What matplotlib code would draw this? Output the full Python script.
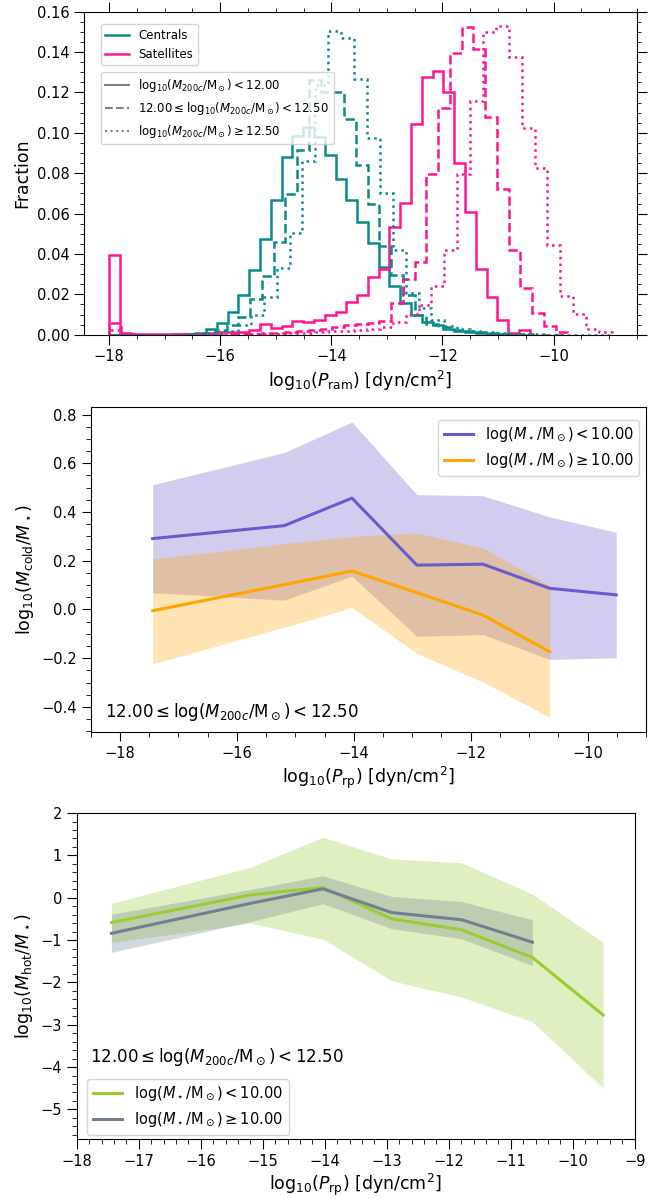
import numpy as np
import matplotlib
matplotlib.use("Agg")
import matplotlib.pyplot as plt
from matplotlib.lines import Line2D
from matplotlib.ticker import MultipleLocator

# ---- ram-pressure histograms (fractions per bin), 39 bins from -18 up to p_max per halo-mass bin
p_min = -18.0
p_max = {"low": -10.43, "mid": -9.75, "high": -8.95}

cen_low = [0, 0, 0, 0, 0, 0, 0.0003, 0.0006, 0.0011, 0.0027, 0.006, 0.0114, 0.0197,
           0.032, 0.0474, 0.0667, 0.088, 0.0985, 0.1027, 0.098, 0.089, 0.077, 0.0667,
           0.0559, 0.0452, 0.0337, 0.0243, 0.0159, 0.0098, 0.0065, 0.0048, 0.003, 0.002,
           0.0012, 0.0008, 0.0005, 0.0003, 0.0002, 0.0001]
sat_low = [0.0395, 0.0008, 0.0002, 0.0002, 0.0002, 0.0002, 0.0002, 0.0004, 0.0006,
           0.001, 0.0012, 0.0015, 0.0015, 0.0023, 0.0053, 0.0031, 0.0043, 0.0068, 0.0064,
           0.0075, 0.0098, 0.0114, 0.0163, 0.0197, 0.0284, 0.0324, 0.0535, 0.0654, 0.1044,
           0.1278, 0.1305, 0.12, 0.085, 0.061, 0.0324, 0.0188, 0.0073, 0.0007, 0.0023]

cen_mid = [0, 0, 0, 0, 0, 0, 0, 0.0003, 0.001, 0.0025, 0.0048, 0.0089, 0.0176, 0.029,
           0.0459, 0.0695, 0.0915, 0.126, 0.12, 0.12, 0.1067, 0.0841, 0.0647, 0.044,
           0.0296, 0.0197, 0.0098, 0.0055, 0.004, 0.0025, 0.0018, 0.0012, 0.0008, 0.0005,
           0.0003, 0.0002, 0, 0, 0]
sat_mid = [0.0056, 0.0003, 0.0001, 0.0001, 0.0001, 0.0001, 0.0001, 0.0001, 0.0001,
           0.0001, 0.0003, 0.0005, 0.0006, 0.0008, 0.001, 0.0012, 0.0018, 0.0023, 0.003,
           0.0037, 0.0048, 0.0053, 0.006, 0.0068, 0.0159, 0.0274, 0.0359, 0.0796, 0.1121,
           0.1397, 0.1523, 0.1414, 0.108, 0.072, 0.042, 0.0233, 0.0106, 0.0043, 0.0015]

cen_high = [0, 0, 0, 0, 0, 0, 0.0002, 0.0005, 0.001, 0.002, 0.005, 0.0098, 0.0185,
            0.0329, 0.0502, 0.086, 0.1237, 0.1506, 0.1468, 0.1265, 0.0973, 0.07, 0.042,
            0.0205, 0.013, 0.0075, 0.0045, 0.003, 0.002, 0.0013, 0.0008, 0.0005, 0.0003,
            0.0002, 0, 0, 0, 0, 0]
sat_high = [0.0023, 0.0002, 0.0001, 0.0001, 0.0001, 0.0001, 0.0001, 0.0001, 0.0001,
            0.0001, 0.0002, 0.0002, 0.0003, 0.0005, 0.0008, 0.001, 0.0013, 0.0017, 0.002,
            0.0025, 0.003, 0.004, 0.0065, 0.0105, 0.0145, 0.0241, 0.042, 0.0795, 0.1159,
            0.1501, 0.1529, 0.1374, 0.1022, 0.0824, 0.0444, 0.0192, 0.0103, 0.0027, 0.0015]

# ---- binned medians and 16-84 percentile bands vs log10(P_rp)
p_rp = [-17.44, -15.19, -14.03, -12.92, -11.79, -10.65, -9.51]

cold_lo_med = [0.291, 0.344, 0.457, 0.182, 0.186, 0.087, 0.060]
cold_lo_up = [0.512, 0.644, 0.769, 0.471, 0.467, 0.380, 0.317]
cold_lo_dn = [0.069, 0.038, 0.137, -0.110, -0.103, -0.205, -0.198]
cold_hi_med = [-0.005, 0.102, 0.158, 0.069, -0.023, -0.173]
cold_hi_up = [0.208, 0.27, 0.30, 0.314, 0.253, 0.098]
cold_hi_dn = [-0.223, -0.073, 0.008, -0.18, -0.298, -0.442]

hot_lo_med = [-0.585, 0.069, 0.243, -0.498, -0.758, -1.41, -2.77]
hot_lo_up = [-0.128, 0.723, 1.43, 0.92, 0.826, 0.085, -1.05]
hot_lo_dn = [-1.06, -0.6, -0.98, -1.96, -2.35, -2.93, -4.5]
hot_hi_med = [-0.84, -0.13, 0.21, -0.35, -0.52, -1.05]
hot_hi_up = [-0.39, 0.2, 0.52, 0.03, -0.09, -0.52]
hot_hi_dn = [-1.29, -0.56, -0.14, -0.73, -0.97, -1.6]

mhalo_labels = [r"$\mathrm{log}_{10}(M_{200c}/{\rm M}_\odot) < 12.00$",
                r"$12.00 \leq \mathrm{log}_{10}(M_{200c}/{\rm M}_\odot) < 12.50$",
                r"$\mathrm{log}_{10}(M_{200c}/{\rm M}_\odot) \geq 12.50$"]
mstar_labels = [r"$\mathrm{log}(M_\star/{\rm M}_\odot) < 10.00$",
                r"$\mathrm{log}(M_\star/{\rm M}_\odot) \geq 10.00$"]
bin_text = r"$12.00 \leq \mathrm{log}(M_{200c}/{\rm M}_\odot) < 12.50$"

c_cen = "#0a8b8b"
c_sat = "deeppink"

fig = plt.figure(figsize=(6.66, 11.98), dpi=100)
ax1 = fig.add_axes([0.1261, 0.7206, 0.8303, 0.2696])
ax2 = fig.add_axes([0.1362, 0.3890, 0.8338, 0.2710])
ax3 = fig.add_axes([0.1152, 0.0492, 0.8378, 0.2721])

# ---- top panel: histograms
styles = ["-", "--", ":"]
series = [("low", cen_low, sat_low), ("mid", cen_mid, sat_mid), ("high", cen_high, sat_high)]
for ls, (key, cen, sat) in zip(styles, series):
    edges = np.linspace(p_min, p_max[key], len(cen) + 1)
    ax1.stairs(cen, edges, color=c_cen, ls=ls, lw=1.8)
    ax1.stairs(sat, edges, color=c_sat, ls=ls, lw=1.8)

ax1.set_xlim(-18.45, -8.5)
ax1.set_ylim(0, 0.16)
ax1.xaxis.set_major_locator(MultipleLocator(2))
ax1.xaxis.set_minor_locator(MultipleLocator(0.5))
ax1.yaxis.set_major_locator(MultipleLocator(0.02))
ax1.yaxis.set_minor_locator(MultipleLocator(0.005))
ax1.tick_params(which="both", direction="out", top=True, right=True, labelsize=10.5)
ax1.tick_params(which="major", length=7)
ax1.tick_params(which="minor", length=3)
ax1.set_xlabel(r"$\mathrm{log}_{10}(P_{\rm ram})$ [dyn/cm$^2$]", fontsize=12.5,
               labelpad=3)
ax1.set_ylabel("Fraction", fontsize=12.5)

h_type = [Line2D([], [], color=c_cen, lw=1.8), Line2D([], [], color=c_sat, lw=1.8)]
leg1 = ax1.legend(h_type, ["Centrals", "Satellites"], loc="upper left",
                  bbox_to_anchor=(0.03, 0.962), borderaxespad=0, fontsize=8.5)
ax1.add_artist(leg1)
h_mass = [Line2D([], [], color="gray", lw=1.5, ls=ls) for ls in styles]
ax1.legend(h_mass, mhalo_labels, loc="upper left", bbox_to_anchor=(0.03, 0.813),
           borderaxespad=0, fontsize=8.5)

# ---- middle panel: cold gas fraction
c_lo2, c_hi2 = "slateblue", "orange"
n_hi = len(cold_hi_med)
ax2.fill_between(p_rp, cold_lo_dn, cold_lo_up, color=c_lo2, alpha=0.3, lw=0)
ax2.fill_between(p_rp[:n_hi], cold_hi_dn, cold_hi_up, color=c_hi2, alpha=0.3, lw=0)
ax2.plot(p_rp, cold_lo_med, color=c_lo2, lw=2.2, label=mstar_labels[0])
ax2.plot(p_rp[:n_hi], cold_hi_med, color=c_hi2, lw=2.2, label=mstar_labels[1])
ax2.set_xlim(-18.5, -9.0)
ax2.xaxis.set_major_locator(MultipleLocator(2))
ax2.xaxis.set_minor_locator(MultipleLocator(0.5))
ax2.yaxis.set_major_locator(MultipleLocator(0.2))
ax2.yaxis.set_minor_locator(MultipleLocator(0.05))
ax2.tick_params(which="both", direction="out", labelsize=10.5)
ax2.tick_params(which="major", length=6.5)
ax2.tick_params(which="minor", length=3.5)
ax2.set_xlabel(r"$\mathrm{log}_{10}(P_{\rm rp})$ [dyn/cm$^2$]", fontsize=12.5,
               labelpad=3)
ax2.set_ylabel(r"$\mathrm{log}_{10}(M_{\rm cold}/M_\star)$", fontsize=12.5)
ax2.legend(loc="upper right", bbox_to_anchor=(0.988, 0.961), borderaxespad=0,
           fontsize=10.5)
ax2.text(0.026, 0.0625, bin_text, transform=ax2.transAxes, fontsize=12,
         va="center", ha="left")

# ---- bottom panel: hot gas fraction
c_lo3, c_hi3 = "yellowgreen", "slategray"
ax3.fill_between(p_rp, hot_lo_dn, hot_lo_up, color=c_lo3, alpha=0.3, lw=0)
ax3.fill_between(p_rp[:n_hi], hot_hi_dn, hot_hi_up, color=c_hi3, alpha=0.3, lw=0)
ax3.plot(p_rp, hot_lo_med, color=c_lo3, lw=2.2, label=mstar_labels[0])
ax3.plot(p_rp[:n_hi], hot_hi_med, color=c_hi3, lw=2.2, label=mstar_labels[1])
ax3.set_xlim(-18, -9)
ax3.set_ylim(-5.7, 2)
ax3.xaxis.set_major_locator(MultipleLocator(1))
ax3.xaxis.set_minor_locator(MultipleLocator(0.2))
ax3.yaxis.set_major_locator(MultipleLocator(1))
ax3.yaxis.set_minor_locator(MultipleLocator(0.2))
ax3.tick_params(which="both", direction="out", labelsize=10.5)
ax3.tick_params(which="major", length=7)
ax3.tick_params(which="minor", length=3.5)
ax3.set_xlabel(r"$\mathrm{log}_{10}(P_{\rm rp})$ [dyn/cm$^2$]", fontsize=12.5,
               labelpad=2)
ax3.set_ylabel(r"$\mathrm{log}_{10}(M_{\rm hot}/M_\star)$", fontsize=12.5)
ax3.legend(loc="lower left", bbox_to_anchor=(0.019, 0.012), borderaxespad=0,
           fontsize=10.5)
ax3.text(0.024, 0.253, bin_text, transform=ax3.transAxes, fontsize=12,
         va="center", ha="left")

fig.savefig("out.png", dpi=100)
